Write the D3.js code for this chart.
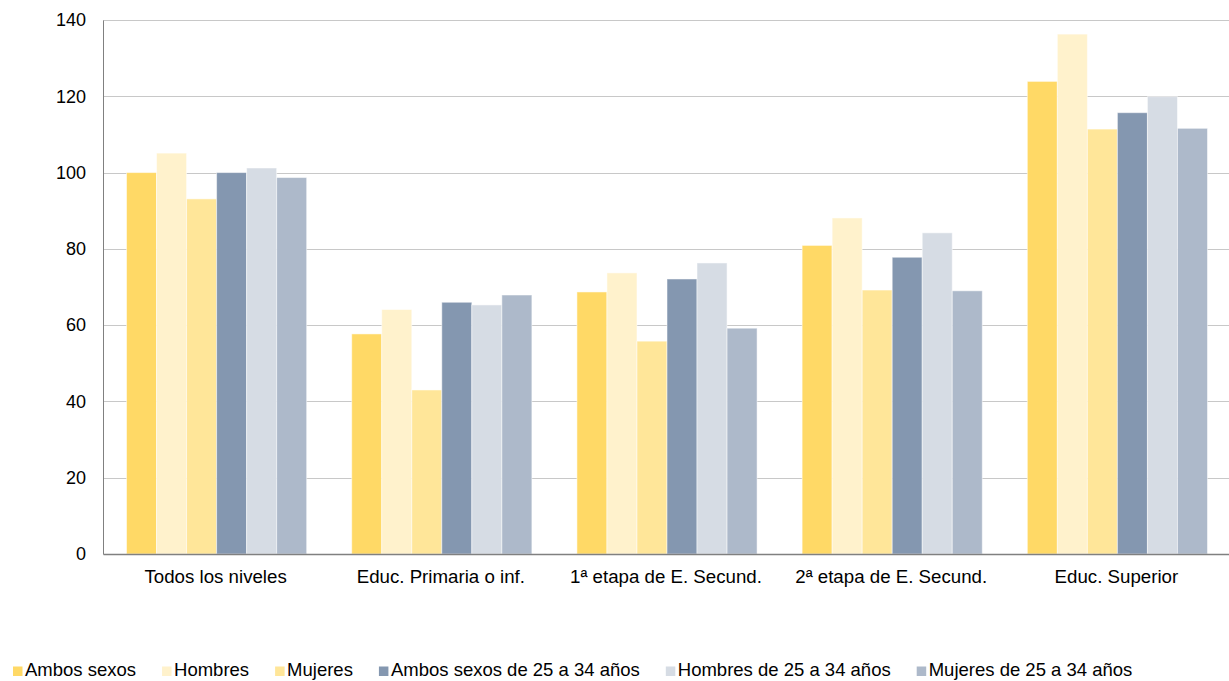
<!DOCTYPE html>
<html>
<head>
<meta charset="utf-8">
<script src="https://cdn.jsdelivr.net/npm/d3@7"></script>
<style>
  body { margin: 0; background: #fff; }
  text { font-family: "Liberation Sans", Arial, sans-serif; fill: #000; }
</style>
</head>
<body>
<script>
var categories = ["Todos los niveles", "Educ. Primaria o inf.", "1ª etapa de E. Secund.", "2ª etapa de E. Secund.", "Educ. Superior"];
var seriesNames = ["Ambos sexos", "Hombres", "Mujeres", "Ambos sexos de 25 a 34 años", "Hombres de 25 a 34 años", "Mujeres de 25 a 34 años"];
var ambos = [100, 57.7, 68.7, 80.9, 123.9];
var hombres = [105.1, 64.1, 73.7, 88.1, 136.3];
var mujeres = [93.1, 43.0, 55.8, 69.2, 111.4];
var ambos25 = [100, 66.0, 72.1, 77.8, 115.7];
var hombres25 = [101.2, 65.3, 76.3, 84.2, 119.9];
var mujeres25 = [98.7, 67.9, 59.2, 69.0, 111.6];
var yTicks = [0, 20, 40, 60, 80, 100, 120, 140];
var colors = ["#FFD966", "#FFF2CC", "#FFE699", "#8497B0", "#D6DCE4", "#ADB9CA"];

var allSeries = [ambos, hombres, mujeres, ambos25, hombres25, mujeres25];

var W = 1229, H = 681;
var margin = {top: 20, right: 0, bottom: 127, left: 103};
var width = W - margin.left - margin.right;
var height = H - margin.top - margin.bottom;

var svg = d3.select("body").append("svg")
  .attr("width", W)
  .attr("height", H);

var g = svg.append("g")
  .attr("transform", `translate(${margin.left}, ${margin.top})`);

var x0 = d3.scaleBand().domain(categories).range([0, width]).paddingInner(0.2).paddingOuter(0.1);
var x1 = d3.scaleBand().domain(d3.range(seriesNames.length)).range([0, x0.bandwidth()]);
var y = d3.scaleLinear().domain([0, 140]).range([height, 0]);

// gridlines
g.selectAll(".grid")
  .data(yTicks.slice(1))
  .enter().append("line")
  .attr("x1", 0).attr("x2", width)
  .attr("y1", d => Math.round(y(d)) + 0.5)
  .attr("y2", d => Math.round(y(d)) + 0.5)
  .attr("stroke", "#c8c8c8")
  .attr("stroke-width", 1);

// bars
var groups = g.selectAll(".grp")
  .data(categories)
  .enter().append("g")
  .attr("transform", d => `translate(${x0(d) + 1},0)`);

groups.selectAll("rect")
  .data((c, i) => allSeries.map((s, k) => ({k: k, v: s[i]})))
  .enter().append("rect")
  .attr("x", d => x1(d.k))
  .attr("y", d => y(d.v))
  .attr("width", x1.bandwidth())
  .attr("height", d => height - y(d.v))
  .attr("fill", d => colors[d.k])
  .attr("stroke", "#ffffff")
  .attr("stroke-opacity", 0.5)
  .attr("stroke-width", 1);

// y axis
var leftAxis = d3.axisLeft(y).tickValues(yTicks).tickSize(0).tickPadding(17);
var ya = g.append("g").call(leftAxis);
ya.select(".domain").attr("stroke", "#808080");
ya.selectAll("text").style("font-size", "18px").style("font-family", "Liberation Sans, Arial, sans-serif");

// x axis
var bottomAxis = d3.axisBottom(x0).tickSize(0).tickPadding(16);
var xa = g.append("g").attr("transform", `translate(0, ${height})`).call(bottomAxis);
xa.select(".domain").attr("stroke", "#808080").attr("stroke-width", 1.5);
xa.selectAll("text").style("font-size", "18.7px").style("font-family", "Liberation Sans, Arial, sans-serif");

// legend
var legend = svg.append("g").attr("transform", "translate(13, 676)");
var lx = 0;
seriesNames.forEach(function(name, i) {
  var item = legend.append("g").attr("transform", `translate(${lx}, 0)`);
  item.append("rect")
    .attr("x", 0).attr("y", -9.5)
    .attr("width", 9.5).attr("height", 9.5)
    .attr("fill", colors[i]);
  var t = item.append("text")
    .attr("x", 12).attr("y", 0)
    .style("font-size", "18.5px")
    .text(name);
  lx += 12 + t.node().getComputedTextLength() + 26;
});
</script>
</body>
</html>
